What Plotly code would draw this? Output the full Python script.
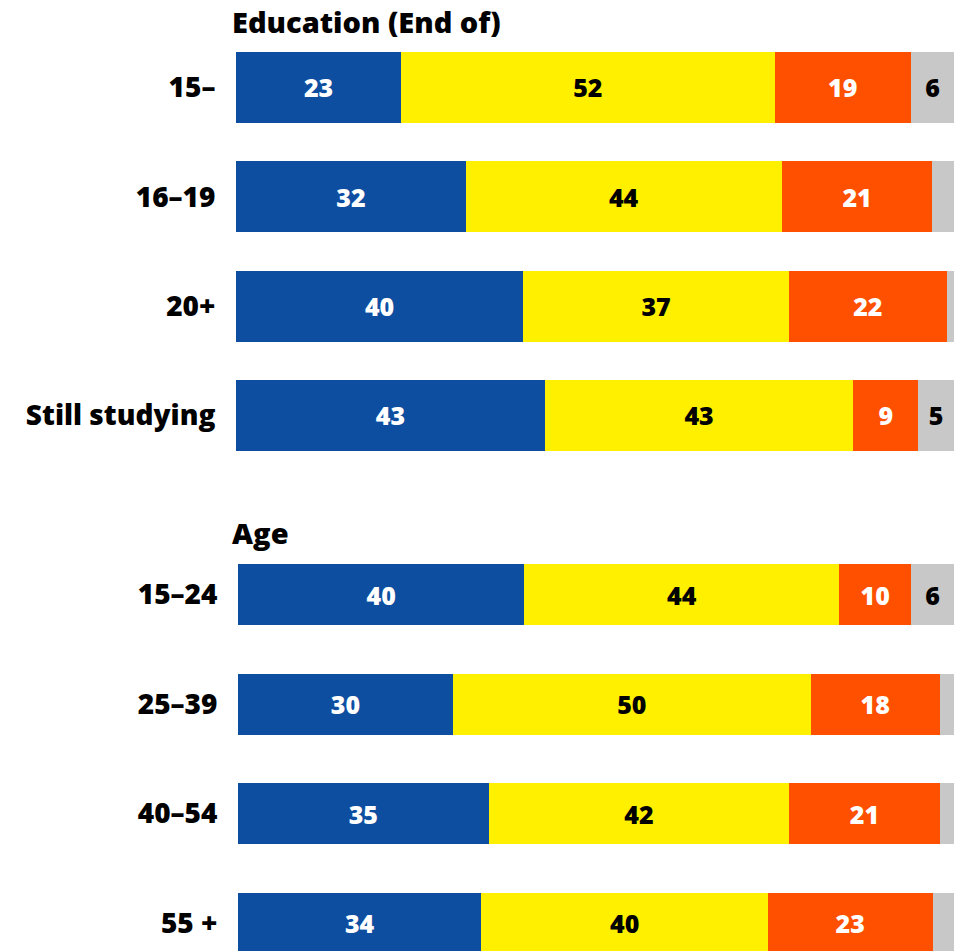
import plotly.graph_objects as go

edu_cats = ["15–", "16–19", "20+", "Still studying"]
age_cats = ["15–24", "25–39", "40–54", "55 +"]

series_names = ["s1", "s2", "s3", "s4"]
edu_values = {
    "s1": [23, 32, 40, 43],
    "s2": [52, 44, 37, 43],
    "s3": [19, 21, 22, 9],
    "s4": [6, 3, 1, 5],
}
age_values = {
    "s1": [40, 30, 35, 34],
    "s2": [44, 50, 42, 40],
    "s3": [10, 18, 21, 23],
    "s4": [6, 2, 2, 3],
}
group_titles = ["Education (End of)", "Age"]

colors = {"s1": "#0E4EA1", "s2": "#FFF000", "s3": "#FF5000", "s4": "#C8C8C8"}
text_colors = {"s1": "white", "s2": "black", "s3": "white", "s4": "black"}

FONT = "Open Sans"
W, H = 966, 951


def px(xp):
    return xp / W


def py(yp):
    return 1 - yp / H


fig = go.Figure()


def add_group(cats, vals, xa, ya, width):
    for s in series_names:
        v = vals[s]
        fig.add_trace(go.Bar(
            y=cats, x=v, orientation="h",
            xaxis=xa, yaxis=ya,
            marker=dict(color=colors[s], line=dict(width=0)),
            width=width,
            text=[str(x) if x >= 4 else "" for x in v],
            textposition="inside", insidetextanchor="middle",
            textangle=0, constraintext="none",
            textfont=dict(family=FONT, size=25, color=text_colors[s], weight=800),
            hoverinfo="skip", showlegend=False,
        ))


add_group(edu_cats, edu_values, "x", "y", 71 / 109.3)
add_group(age_cats, age_values, "x2", "y2", 61 / 109.5)

tickfont = dict(family=FONT, size=28, color="black", weight=800)

# pixel extents of the bottom category span (it runs past the page bottom)
bot_top, bot_bottom, page_bottom = 539.75, 977.75, 951

fig.update_layout(
    width=W, height=H,
    margin=dict(l=0, r=0, t=0, b=0),
    paper_bgcolor="white", plot_bgcolor="white",
    barmode="stack", bargap=0,
    xaxis=dict(domain=[px(236), px(954)], range=[0, 100], visible=False, fixedrange=True),
    xaxis2=dict(domain=[px(238), px(954)], range=[0, 100], visible=False, fixedrange=True),
    yaxis=dict(
        domain=[py(470), py(32.85)], anchor="x",
        type="category", categoryorder="array", categoryarray=edu_cats,
        range=[3.5, -0.5], showgrid=False, zeroline=False, showline=False,
        ticks="outside", ticklen=14, tickcolor="rgba(0,0,0,0)",
        tickfont=tickfont, fixedrange=True,
    ),
    yaxis2=dict(
        domain=[0, py(bot_top)], anchor="x2",
        type="category", categoryorder="array", categoryarray=age_cats,
        range=[3.5 - (bot_bottom - page_bottom) / 109.5, -0.5],
        showgrid=False, zeroline=False, showline=False,
        ticks="outside", ticklen=14, tickcolor="rgba(0,0,0,0)",
        tickfont=tickfont, fixedrange=True,
    ),
)

for title, ypx in zip(group_titles, [21.5, 532]):
    fig.add_annotation(
        text=title, xref="paper", yref="paper",
        x=px(230), y=py(ypx), xanchor="left", yanchor="middle",
        showarrow=False,
        font=dict(family=FONT, size=29, color="black", weight=800),
    )

fig.write_html(
    "out.html",
    config={"displayModeBar": False, "staticPlot": True},
    post_script="document.body.style.margin='0px';document.body.style.overflow='hidden';",
)
